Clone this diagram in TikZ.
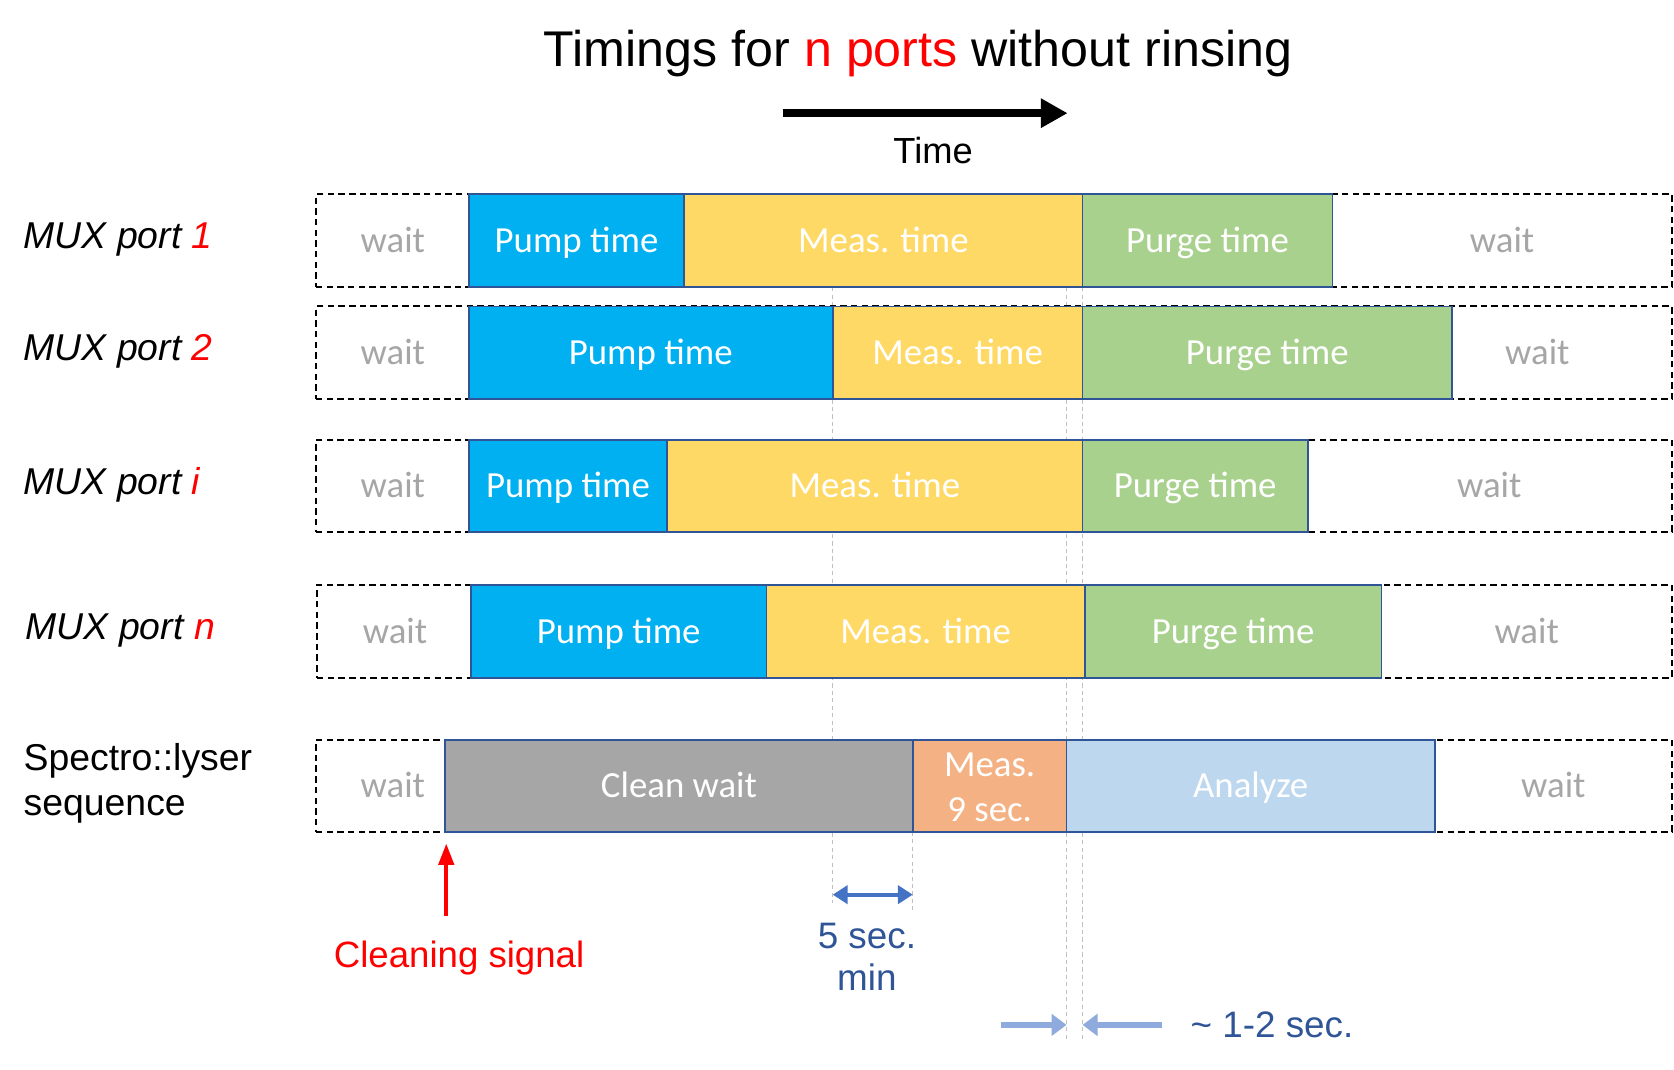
\documentclass[tikz,border=0pt]{standalone}
\usepackage{fontspec}
\setmainfont{Liberation Sans}
\newfontfamily\boxfont{Carlito}
\usetikzlibrary{arrows.meta,fit}
\definecolor{pumpc}{HTML}{00B0F0}
\definecolor{measc}{HTML}{FFD966}
\definecolor{purgec}{HTML}{A9D18E}
\definecolor{cleanc}{HTML}{A6A6A6}
\definecolor{smeasc}{HTML}{F4B183}
\definecolor{analyzec}{HTML}{BDD7EE}
\definecolor{borderc}{HTML}{2F5597}
\definecolor{waitc}{HTML}{A6A6A6}
\definecolor{guidec}{HTML}{C0C0C0}
\definecolor{textblue}{HTML}{2F5597}
\definecolor{arrowblue}{HTML}{4472C4}
\definecolor{lightblue}{HTML}{8FAADC}
\begin{document}
\begin{tikzpicture}[x=1pt,y=-1pt,
  seg/.style={draw=borderc, line width=1.6pt, inner sep=0pt, outer sep=0pt},
  segtxt/.style={font=\boxfont\fontsize{34.5}{42}\selectfont, text=white,
    text height=22pt, text depth=0pt, inner sep=0pt},
  rowbox/.style={draw=black, line width=1.8pt, dash pattern=on 6pt off 4pt, inner sep=0pt},
  waittxt/.style={segtxt, text=waitc},
  guide/.style={draw=guidec, line width=0.9pt, dash pattern=on 4pt off 3pt},
  lab/.style={font=\fontsize{35}{42}\selectfont\itshape, anchor=base west, inner sep=0pt},
  plain/.style={font=\fontsize{35}{42}\selectfont, anchor=base west, inner sep=0pt},
  bluetxt/.style={font=\fontsize{34.5}{42}\selectfont, text=textblue, anchor=base, inner sep=0pt},
]
\useasboundingbox (0,0) rectangle (1568,1002);

% guide lines (background)
\draw[guide] (780,269) -- (780,846);
\draw[guide] (855,779) -- (855,852);
\draw[guide] (999,269) -- (999,975);
\draw[guide] (1014,269) -- (1014,975);

% title and time arrow
\node[anchor=base, inner sep=0pt, font=\fontsize{47}{56}\selectfont] (title) at (860,62)
  {Timings for \textcolor{red}{n ports} without rinsing};
\coordinate (tA) at (733,106);
\coordinate (tB) at (1000,106);
\draw[line width=8pt, -{Triangle[length=25pt,width=26pt]}] (tA) -- (tB);
\node[anchor=base, inner sep=0pt, font=\fontsize{34}{40}\selectfont] (timelbl) at (874,153) {Time};

% row labels
\node[lab] (l1) at (22,233) {MUX port \textcolor{red}{1}};
\node[lab] (l2) at (22,338) {MUX port \textcolor{red}{2}};
\node[lab] (li) at (22,463) {MUX port \textcolor{red}{i}};
\node[lab] (ln) at (24,599) {MUX port \textcolor{red}{n}};
\node[plain] (ls1) at (22,722) {Spectro::lyser};
\node[plain] (ls2) at (22,764) {sequence};

% row 1
\node[rowbox, fit={(296,182)(1566,269)}] (r1) {};
\node[seg, fill=pumpc, fit={(439,182)(641,269)}] (p1) {};
\node[seg, fill=measc, fit={(641,182)(1014,269)}] (m1) {};
\node[seg, fill=purgec, fit={(1014,182)(1248,269)}] (g1) {};
\node[segtxt] at (p1.center) {Pump time};
\node[segtxt] at (m1.center) {Meas. time};
\node[segtxt] at (g1.center) {Purge time};
\node[waittxt] (w1a) at (368,225.5) {wait};
\node[waittxt] (w1b) at (1407,225.5) {wait};

% row 2
\node[rowbox, fit={(296,287)(1566,374)}] (r2) {};
\node[seg, fill=pumpc, fit={(439,287)(780,374)}] (p2) {};
\node[seg, fill=measc, fit={(780,287)(1014,374)}] (m2) {};
\node[seg, fill=purgec, fit={(1014,287)(1360,374)}] (g2) {};
\node[segtxt] at (p2.center) {Pump time};
\node[segtxt] at (m2.center) {Meas. time};
\node[segtxt] at (g2.center) {Purge time};
\node[waittxt] (w2a) at (368,330.5) {wait};
\node[waittxt] (w2b) at (1440,330.5) {wait};

% row i
\node[rowbox, fit={(296,412)(1566,498)}] (ri) {};
\node[seg, fill=pumpc, fit={(439,412)(625,498)}] (pi) {};
\node[seg, fill=measc, fit={(625,412)(1014,498)}] (mi) {};
\node[seg, fill=purgec, fit={(1014,412)(1225,498)}] (gi) {};
\node[segtxt] at (pi.center) {Pump time};
\node[segtxt] at (mi.center) {Meas. time};
\node[segtxt] at (gi.center) {Purge time};
\node[waittxt] (wia) at (368,455) {wait};
\node[waittxt] (wib) at (1395,455) {wait};

% row n
\node[rowbox, fit={(297,548)(1566,635)}] (rn) {};
\node[seg, fill=pumpc, fit={(441,548)(718,635)}] (pn) {};
\node[seg, fill=measc, fit={(718,548)(1016,635)}] (mn) {};
\node[seg, fill=purgec, fit={(1016,548)(1294,635)}] (gn) {};
\node[segtxt] at (pn.center) {Pump time};
\node[segtxt] at (mn.center) {Meas. time};
\node[segtxt] at (gn.center) {Purge time};
\node[waittxt] (wna) at (370,591.5) {wait};
\node[waittxt] (wnb) at (1430,591.5) {wait};

% spectrolyser row
\node[rowbox, fit={(296,693)(1566,779)}] (rs) {};
\node[seg, fill=cleanc, fit={(417,693)(855,779)}] (cw) {};
\node[seg, fill=smeasc, fit={(855,693)(999,779)}] (sm) {};
\node[seg, fill=analyzec, fit={(999,693)(1344,779)}] (an) {};
\node[segtxt] at (cw.center) {Clean wait};
\node[segtxt] at ([yshift=20pt]sm.center) {Meas.};
\node[segtxt] at ([yshift=-22pt]sm.center) {9 sec.};
\node[segtxt] at (an.center) {Analyze};
\node[waittxt] (wsa) at (368,736) {wait};
\node[waittxt] (wsb) at (1455,736) {wait};

% cleaning signal
\coordinate (cs0) at (418,858);
\coordinate (cs1) at (418,790);
\draw[red, line width=4pt, -{Triangle[length=20pt,width=14pt]}] (cs0) -- (cs1);
\node[anchor=base, inner sep=0pt, text=red, font=\fontsize{34.3}{40}\selectfont] (cslbl) at (430,906) {Cleaning signal};

% 5 sec min
\coordinate (fa) at (780,838);
\coordinate (fb) at (855,838);
\draw[arrowblue, line width=4pt, {Triangle[length=14pt,width=17pt]}-{Triangle[length=14pt,width=17pt]}] (fa) -- (fb);
\node[bluetxt] (fs1) at (812,888) {5 sec.};
\node[bluetxt] (fs2) at (812,928) {min};

% 1-2 sec
\coordinate (la0) at (938,960);
\coordinate (la1) at (999,960);
\coordinate (lb0) at (1088,960);
\coordinate (lb1) at (1014,960);
\draw[lightblue, line width=5pt, -{Triangle[length=14pt,width=20pt]}] (la0) -- (la1);
\draw[lightblue, line width=5pt, -{Triangle[length=14pt,width=20pt]}] (lb0) -- (lb1);
\node[bluetxt, anchor=base west] (oneTwo) at (1115,972) {\textasciitilde\ 1-2 sec.};
\end{tikzpicture}
\end{document}
